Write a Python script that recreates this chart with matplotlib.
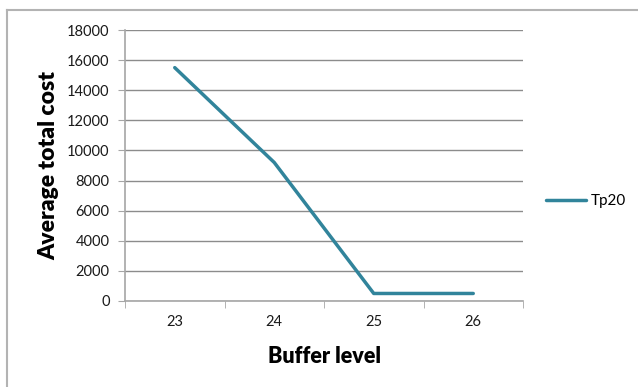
import matplotlib
matplotlib.use("Agg")
import matplotlib.pyplot as plt
from matplotlib.lines import Line2D

buffer_levels = [23, 24, 25, 26]
tp20_cost = [15500, 9200, 500, 500]
y_ticks = [0, 2000, 4000, 6000, 8000, 10000, 12000, 14000, 16000, 18000]
series_name = "Tp20"

plt.rcParams['font.family'] = ['Lato', 'DejaVu Sans']

W, H = 638, 387
fig = plt.figure(figsize=(W / 100, H / 100), dpi=100)

# outer chart frame (top and left edges visible)
fig.add_artist(Line2D([7 / W, 1.0], [1 - 10 / H, 1 - 10 / H], color='#b3b3b3', lw=1.5))
fig.add_artist(Line2D([7 / W, 7 / W], [0, 1 - 10 / H], color='#b3b3b3', lw=1.5))

ax = fig.add_axes([125 / W, 1 - 301 / H, (523 - 125) / W, (301 - 30) / H])
ax.plot(buffer_levels, tp20_cost, color='#31849b', lw=2.5, solid_capstyle='round',
        solid_joinstyle='round', label=series_name)

ax.set_xlim(22.5, 26.5)
ax.set_ylim(0, 18000)
ax.set_yticks(y_ticks)
ax.set_yticklabels([str(v) for v in y_ticks])
ax.set_xticks(buffer_levels)
ax.set_xticklabels([str(v) for v in buffer_levels])
ax.set_xticks([22.5, 23.5, 24.5, 25.5, 26.5], minor=True)

ax.grid(axis='y', color='#8c8c8c', lw=1)
ax.set_axisbelow(True)
for s in ['top', 'right']:
    ax.spines[s].set_visible(False)
for s in ['left', 'bottom']:
    ax.spines[s].set_color('#a6a6a6')
    ax.spines[s].set_linewidth(1.2)

ax.tick_params(axis='y', which='major', length=5, color='#a6a6a6', labelsize=10.5, pad=6,
               labelcolor='#1a1a1a')
ax.tick_params(axis='x', which='major', length=0, labelsize=10.5, pad=10, labelcolor='#1a1a1a')
ax.tick_params(axis='x', which='minor', length=5, color='#a6a6a6')

ax.set_xlabel("Buffer level", fontsize=15.5, fontweight='heavy', labelpad=12)
ax.set_ylabel("Average total cost", fontsize=16.5, fontweight='heavy', labelpad=6)

ax.legend(loc='center left', bbox_to_anchor=(540 / W, 1 - 201 / H), bbox_transform=fig.transFigure,
          frameon=False, fontsize=11, handlelength=2.6, handletextpad=0.3, borderaxespad=0)

fig.savefig("out.png", dpi=100)
